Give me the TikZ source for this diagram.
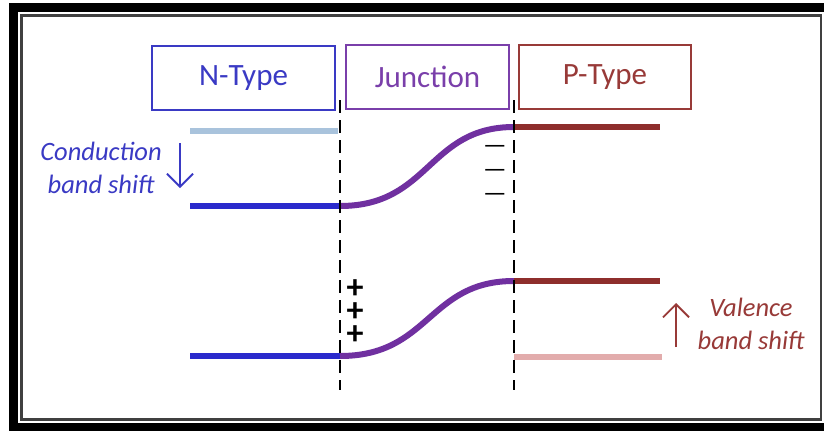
\documentclass[tikz,border=0pt]{standalone}
\usepackage{fontspec}
\setmainfont{Carlito}
\usetikzlibrary{arrows.meta}
\definecolor{nblue}{HTML}{3A3AC4}
\definecolor{nbar}{HTML}{2A2ACC}
\definecolor{lightband}{HTML}{A9C3DC}
\definecolor{jpurple}{HTML}{7A3FAA}
\definecolor{jcurve}{HTML}{7030A0}
\definecolor{pred}{HTML}{983A38}
\definecolor{pbar}{HTML}{8E2E2C}
\definecolor{pinkband}{HTML}{E2ACAC}
\tikzset{
  typebox/.style={draw, line width=2pt, font=\fontsize{31}{36}\selectfont, inner sep=0pt},
  band/.style={line width=6pt},
  boundary/.style={line width=1.6pt, dash pattern=on 13pt off 7pt},
  shiftlabel/.style={align=center, font=\fontsize{26.5}{33}\selectfont\itshape},
  shiftarrow/.style={line width=1.8pt, -{Straight Barb[length=13pt, width=26pt, line width=1.8pt]}},
  pluscol/.style={inner sep=0pt, align=center, font=\fontsize{34}{23}\selectfont\bfseries},
  minuscol/.style={inner sep=0pt, align=center, font=\fontsize{26}{24}\selectfont}
}
\begin{document}
\begin{tikzpicture}[x=1pt,y=-1pt]
\useasboundingbox (0,0) rectangle (824,431);
% frame
\fill[black] (9,3) rectangle (824,431);
\fill[white] (18,12) rectangle (824,423);
\draw[line width=2.5pt, black!75] (21.5,15.5) rectangle (821,419.5);

% region boxes
\node[typebox, draw=nblue, text=nblue, minimum width=183pt, minimum height=64pt] (ntype) at (243.5,78) {N-Type};
\node[typebox, draw=jpurple, text=jpurple, minimum width=163pt, minimum height=64pt] (junction) at (427.5,77) {Junction};
\node[typebox, draw=pred, text=pred, minimum width=172pt, minimum height=64pt] (ptype) at (605,77) {P-Type};

% band edge coordinates
\coordinate (cbn0) at (190,206);  \coordinate (cbn1) at (340,206);
\coordinate (cbp0) at (514,127);  \coordinate (cbp1) at (660,127);
\coordinate (vbn0) at (190,356);  \coordinate (vbn1) at (340,356);
\coordinate (vbp0) at (514,281);  \coordinate (vbp1) at (660,281);

% shifted (original) band positions
\draw[band, lightband] (190,131) -- (338,131);
\draw[band, pinkband] (514,357) -- (662,357);

% conduction band
\draw[band, nbar] (cbn0) -- (cbn1);
\draw[band, jcurve] (cbn1) .. controls (430,206) and (428,127) .. (cbp0);
\draw[band, pbar] (cbp0) -- (cbp1);

% valence band
\draw[band, nbar] (vbn0) -- (vbn1);
\draw[band, jcurve] (vbn1) .. controls (430,356) and (428,281) .. (vbp0);
\draw[band, pbar] (vbp0) -- (vbp1);

% junction boundaries
\coordinate (b1t) at (340,100); \coordinate (b1b) at (340,390);
\coordinate (b2t) at (514,100); \coordinate (b2b) at (514,390);
\draw[boundary] (b1t) -- (b1b);
\draw[boundary] (b2t) -- (b2b);

% space charge on either side of the junction
\node[minuscol] (negcharge) at (495,173) {—\\—\\—};
\node[pluscol] (poscharge) at (355,312) {+\\+\\+};

% band shift labels
\node[shiftlabel, text=nblue] (cblabel) at (101,168) {Conduction\\band shift};
\coordinate (cba0) at (180,143); \coordinate (cba1) at (180,188);
\draw[shiftarrow, nblue] (cba0) -- (cba1);

\node[shiftlabel, text=pred] (vblabel) at (751,324) {Valence\\band shift};
\coordinate (vba0) at (676,347); \coordinate (vba1) at (676,303);
\draw[shiftarrow, pred] (vba0) -- (vba1);
\end{tikzpicture}
\end{document}
